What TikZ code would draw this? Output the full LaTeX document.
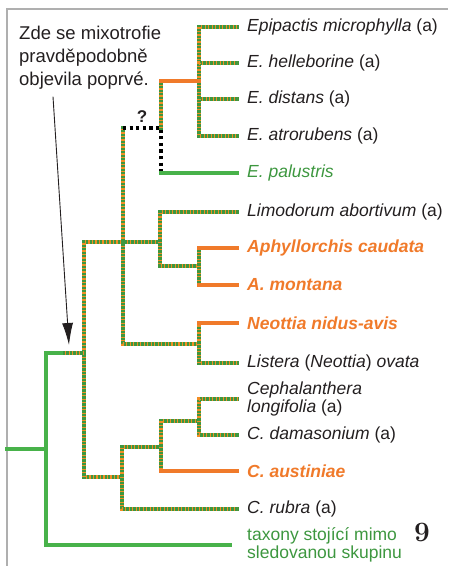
\documentclass[tikz,border=0pt]{standalone}
\usepackage{fontspec}
\setsansfont{Liberation Sans}
\usetikzlibrary{arrows.meta,positioning}
\definecolor{grn}{RGB}{72,178,74}
\definecolor{org}{RGB}{240,122,42}
\definecolor{ink}{RGB}{35,31,32}
\definecolor{framegray}{RGB}{175,175,175}

\begin{document}
\begin{tikzpicture}[x=1pt, y=-1pt,
    mixed/.style={line width=3.8pt, draw=grn!85!black, line cap=rect,
      postaction={draw=org!85!yellow, line cap=butt, dash pattern=on 1.3pt off 2.2pt}},
    mycoline/.style={line width=3.5pt, draw=org, line cap=rect},
    greenline/.style={line width=3.5pt, draw=grn, line cap=rect},
    unsure/.style={line width=3.4pt, draw=black, dash pattern=on 3.2pt off 3.4pt},
    taxon/.style={font=\sffamily\fontsize{17.5}{18}\selectfont, text=ink, inner sep=0pt, align=left},
    myco/.style={taxon, text=org, font=\sffamily\bfseries\itshape\fontsize{17.5}{18}\selectfont},
    outgroup/.style={taxon, text=grn!85!black},
    pointer/.style={-{Latex[length=22pt,width=11pt]}, line width=0.9pt, draw=ink}
  ]
  \useasboundingbox (0,0) rectangle (448,566);
  \draw[framegray, line width=1.5pt] (7,566) -- (7,9) -- (448,9);

  % leaves
  \coordinate (l1) at (237,27);
  \coordinate (l2) at (237,63);
  \coordinate (l3) at (237,99);
  \coordinate (l4) at (237,136);
  \coordinate (l5) at (237,173);
  \coordinate (l6) at (237,212);
  \coordinate (l7) at (237,248);
  \coordinate (l8) at (237,285);
  \coordinate (l9) at (237,323);
  \coordinate (l10) at (237,363);
  \coordinate (l11) at (237,399);
  \coordinate (l12) at (237,435);
  \coordinate (l13) at (237,471);
  \coordinate (l14) at (237,509);
  \coordinate (l15) at (230,545);

  % inner nodes
  \coordinate (nA) at (199,81);
  \coordinate (nB) at (161,128);
  \coordinate (nC) at (123,242);
  \coordinate (nD) at (160,242);
  \coordinate (nE) at (199,266);
  \coordinate (nF) at (199,344);
  \coordinate (nG) at (84,353);
  \coordinate (nH) at (122,477);
  \coordinate (nI) at (161,447);
  \coordinate (nJ) at (199,421);
  \coordinate (nR) at (46,449);
  \coordinate (root) at (7,449);
  \coordinate (mx) at (65,353);
  \coordinate (tip) at (69,345);

  % Epipactis
  \foreach \leaf in {l1,l2,l3,l4}
    \draw[mixed] (nA) |- (\leaf);
  \draw[mixed] (nB) -- (nB |- nA);
  \draw[mycoline] (nB |- nA) -- (nA);
  \draw[mixed] (nC) -- (nC |- nB);
  \draw[unsure] (nC |- nB) -- (nB) -- (nB |- l5);
  \draw[greenline] (nB |- l5) -- (l5);
  \node[font=\sffamily\bfseries\fontsize{17}{17}\selectfont, text=ink] (q) at (142,117) {?};

  % Limodorum, Aphyllorchis, Neottia
  \draw[mixed] (nC) -- (nD);
  \draw[mixed] (nC) |- (nF);
  \draw[mixed] (nD) |- (l6);
  \draw[mixed] (nD) |- (nE);
  \draw[mixed] (nE |- l7) -- (nE |- l8);
  \draw[mycoline] (nE |- l7) -- (l7);
  \draw[mycoline] (nE |- l8) -- (l8);
  \draw[mixed] (nF) -- (nF |- l9);
  \draw[mycoline] (nF |- l9) -- (l9);
  \draw[mixed] (nF) |- (l10);

  % Cephalanthera
  \draw[mixed] (nG) |- (nC);
  \draw[mixed] (nG) |- (nH);
  \draw[mixed] (nH) |- (nI);
  \draw[mixed] (nH) |- (l14);
  \draw[mixed] (nI) |- (nJ);
  \draw[mixed] (nI) -- (nI |- l13);
  \draw[mycoline] (nI |- l13) -- (l13);
  \draw[mixed] (nJ) |- (l11);
  \draw[mixed] (nJ) |- (l12);

  % root
  \draw[greenline] (root) -- (nR);
  \draw[greenline] (nR) |- (mx);
  \draw[mixed] (mx) -- (nG);
  \draw[greenline] (nR) |- (l15);

  % labels
  \node[taxon, right=10pt of l1] (t1) {\textit{Epipactis microphylla} (a)};
  \node[taxon, right=10pt of l2] (t2) {\textit{E. helleborine} (a)};
  \node[taxon, right=10pt of l3] (t3) {\textit{E. distans} (a)};
  \node[taxon, right=10pt of l4] (t4) {\textit{E. atrorubens} (a)};
  \node[outgroup, right=10pt of l5] (t5) {\textit{E. palustris}};
  \node[taxon, right=10pt of l6] (t6) {\textit{Limodorum abortivum} (a)};
  \node[myco, right=10pt of l7] (t7) {Aphyllorchis caudata};
  \node[myco, right=10pt of l8] (t8) {A. montana};
  \node[myco, right=10pt of l9] (t9) {Neottia nidus-avis};
  \node[taxon, right=10pt of l10] (t10) {\textit{Listera} (\textit{Neottia}) \textit{ovata}};
  \node[taxon, right=10pt of l11] (t11) {\textit{Cephalanthera}\\\textit{longifolia} (a)};
  \node[taxon, right=10pt of l12] (t12) {\textit{C. damasonium} (a)};
  \node[myco, right=10pt of l13] (t13) {C. austiniae};
  \node[taxon, right=10pt of l14] (t14) {\textit{C. rubra} (a)};
  \node[outgroup, right=17pt of l15] (t15) {taxony stojící mimo\\sledovanou skupinu};

  % note
  \node[taxon, font=\sffamily\fontsize{18.5}{23}\selectfont, anchor=north west] (note) at (19,26)
    {Zde se mixotrofie\\pravděpodobně\\objevila poprvé.};
  \draw[pointer] ([xshift=34pt,yshift=-7pt]note.south west) -- (tip);

  \node[font=\bfseries\fontsize{28}{28}\selectfont, text=ink] (num) at (422,532) {9};
\end{tikzpicture}
\end{document}
